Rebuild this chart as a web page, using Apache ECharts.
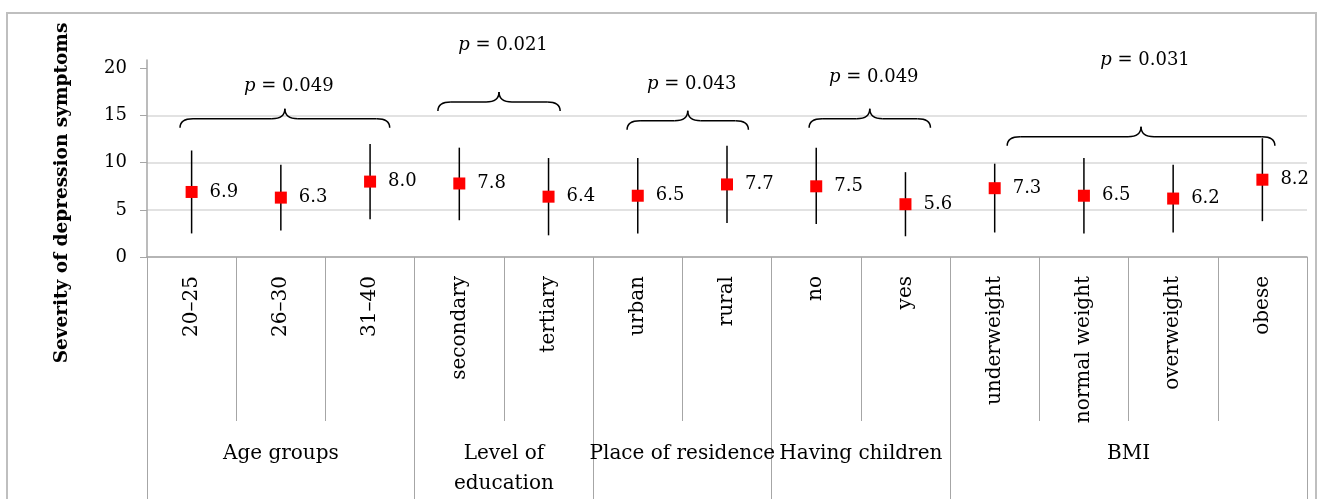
<!DOCTYPE html>
<html>
<head>
<meta charset="utf-8">
<script src="https://cdn.jsdelivr.net/npm/echarts@6/dist/echarts.min.js"></script>
<style>
  html, body { margin: 0; padding: 0; background: #fff; }
  #main { width: 1319px; height: 499px; }
</style>
</head>
<body>
<div id="main"></div>
<script>
var categories = ['20–25', '26–30', '31–40', 'secondary', 'tertiary', 'urban', 'rural', 'no', 'yes',
    'underweight', 'normal weight', 'overweight', 'obese'];
var means  = [6.9, 6.3, 8.0, 7.8, 6.4, 6.5, 7.7, 7.5, 5.6, 7.3, 6.5, 6.2, 8.2];
var lowers = [2.5, 2.8, 4.0, 3.9, 2.3, 2.5, 3.6, 3.5, 2.2, 2.6, 2.5, 2.6, 3.8];
var uppers = [11.3, 9.8, 12.0, 11.6, 10.5, 10.5, 11.8, 11.6, 9.0, 9.9, 10.5, 9.8, 12.6];

var groupNames = ['Age groups', 'Level of\neducation', 'Place of residence', 'Having children', 'BMI'];
var groupSizes = [3, 2, 2, 2, 4];
var yTicks = [0, 5, 10, 15, 20];

// braces over the groups (x in category-band units, y in axis units)
var braceStart = [0.37, 3.26, 5.38, 7.42, 9.64];
var braceEnd   = [2.72, 4.63, 6.74, 8.78, 12.64];
var braceY     = [13.7, 15.5, 13.5, 13.7, 11.8];
var pLabelY    = [18.1, 22.5, 18.3, 19.1, 20.9];
var pValues    = ['0.049', '0.021', '0.043', '0.049', '0.031'];

var serif = '"DejaVu Serif", serif';
var gray = '#a6a6a6';

var bounds = [0];
groupSizes.forEach(function (s) { bounds.push(bounds[bounds.length - 1] + s); });
var centers = groupSizes.map(function (s, i) { return bounds[i] + s / 2; });

var chart = echarts.init(document.getElementById('main'));

var option = {
    animation: false,
    graphic: [
        {   // outer frame
            type: 'rect',
            shape: {x: 7, y: 13, width: 1309, height: 600},
            style: {fill: null, stroke: '#bfbfbf', lineWidth: 2}
        },
        {   // y axis title
            type: 'text',
            x: 62, y: 193,
            rotation: Math.PI / 2,
            style: {
                text: 'Severity of depression symptoms',
                fontFamily: serif, fontSize: 18.5, fontWeight: 'bold',
                fill: '#000', align: 'center', verticalAlign: 'middle'
            }
        }
    ],
    grid: {left: 147, right: 12, top: 60, bottom: 239},
    xAxis: [
        {
            type: 'category',
            data: categories,
            axisLine: {lineStyle: {color: gray, width: 1.5}},
            axisTick: {show: true, interval: 0, length: 164, lineStyle: {color: gray}},
            axisLabel: {interval: 0, rotate: 90, margin: 19, fontFamily: serif, fontSize: 20, color: '#000'}
        },
        {   // group row
            type: 'value',
            min: 0, max: 13,
            position: 'bottom',
            axisLine: {show: false},
            splitLine: {show: false},
            axisTick: {show: true, customValues: bounds, length: 260, lineStyle: {color: gray}},
            axisLabel: {
                customValues: centers,
                margin: 182, lineHeight: 30,
                fontFamily: serif, fontSize: 20, color: '#000',
                formatter: function (v) {
                    for (var i = 0; i < centers.length; i++) {
                        if (Math.abs(centers[i] - v) < 0.01) return groupNames[i];
                    }
                    return '';
                }
            }
        }
    ],
    yAxis: {
        type: 'value',
        min: 0, max: 20.9, interval: 5,
        axisLine: {show: true, lineStyle: {color: gray, width: 1.5}},
        axisTick: {show: true, length: 7, customValues: yTicks, lineStyle: {color: gray}},
        axisLabel: {customValues: yTicks, margin: 20, fontFamily: serif, fontSize: 18, color: '#000'},
        splitLine: {lineStyle: {color: '#d9d9d9', width: 1.5}, showMaxLine: false}
    },
    series: [
        {
            name: 'range',
            type: 'custom',
            xAxisIndex: 0,
            data: categories.map(function (c, i) { return [i, lowers[i], uppers[i]]; }),
            encode: {x: 0, y: [1, 2]},
            renderItem: function (params, api) {
                var lo = api.coord([api.value(0), api.value(1)]);
                var hi = api.coord([api.value(0), api.value(2)]);
                return {
                    type: 'line',
                    shape: {x1: lo[0], y1: lo[1], x2: hi[0], y2: hi[1]},
                    style: {stroke: '#000', lineWidth: 1.5}
                };
            },
            z: 2
        },
        {
            name: 'mean',
            type: 'scatter',
            xAxisIndex: 0,
            data: means,
            symbol: 'rect',
            symbolSize: 12,
            itemStyle: {color: '#ff0000', opacity: 1},
            label: {
                show: true, position: 'right', distance: 12,
                fontFamily: serif, fontSize: 18, color: '#000',
                formatter: function (p) { return p.value.toFixed(1); }
            },
            z: 3
        },
        {
            name: 'braces',
            type: 'custom',
            xAxisIndex: 1,
            clip: false,
            data: braceStart.map(function (s, i) { return [s, braceEnd[i], braceY[i], pLabelY[i], i]; }),
            encode: {x: [0, 1], y: [2, 3]},
            renderItem: function (params, api) {
                var a = api.coord([api.value(0), api.value(2)]);
                var b = api.coord([api.value(1), api.value(2)]);
                var t = api.coord([(api.value(0) + api.value(1)) / 2, api.value(3)]);
                var x0 = a[0], x1 = b[0], xm = (x0 + x1) / 2;
                var yb = a[1], yh = yb - 9, yp = yb - 19, r = 13;
                var st = {stroke: '#000', lineWidth: 1.5, fill: null};
                return {
                    type: 'group',
                    children: [
                        {type: 'bezierCurve', shape: {x1: x0, y1: yb, x2: x0 + r, y2: yh, cpx1: x0, cpy1: yh}, style: st},
                        {type: 'line', shape: {x1: x0 + r, y1: yh, x2: xm - r, y2: yh}, style: st},
                        {type: 'bezierCurve', shape: {x1: xm - r, y1: yh, x2: xm, y2: yp, cpx1: xm, cpy1: yh}, style: st},
                        {type: 'bezierCurve', shape: {x1: xm, y1: yp, x2: xm + r, y2: yh, cpx1: xm, cpy1: yh}, style: st},
                        {type: 'line', shape: {x1: xm + r, y1: yh, x2: x1 - r, y2: yh}, style: st},
                        {type: 'bezierCurve', shape: {x1: x1 - r, y1: yh, x2: x1, y2: yb, cpx1: x1, cpy1: yh}, style: st},
                        {
                            type: 'text',
                            style: {
                                text: '{i|p} = ' + pValues[api.value(4)],
                                x: t[0] + 4, y: t[1],
                                align: 'center', verticalAlign: 'middle',
                                fontFamily: serif, fontSize: 18, fill: '#000',
                                rich: {i: {fontStyle: 'italic', fontFamily: serif, fontSize: 18}}
                            }
                        }
                    ]
                };
            },
            z: 4
        }
    ]
};

chart.setOption(option);
</script>
</body>
</html>
